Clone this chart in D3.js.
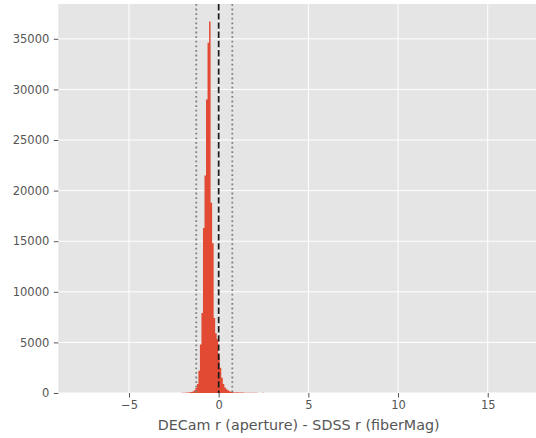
<!DOCTYPE html>
<html>
<head>
<meta charset="utf-8">
<script src="https://cdn.jsdelivr.net/npm/d3@7"></script>
<style>
  html, body { margin: 0; padding: 0; background: #ffffff; }
  svg { display: block; }
  text { font-family: "DejaVu Sans", sans-serif; }
</style>
</head>
<body>
<svg id="chart" width="536" height="438"></svg>
<script>
// ---- data ----
const binStart = -2.15;      // left edge of first bin
const binWidth = 0.085;      // histogram bin width
const counts = [
  0, 20, 30, 30, 40, 50, 70, 100, 160, 280,
  500, 900, 2200, 4800, 7900, 16300, 21500, 29000, 34600, 36700,
  18800, 14800, 7400, 5900, 5300, 3800, 2500, 1500, 900, 550,
  380, 260, 180, 130, 90, 60, 45, 70, 55, 50,
  45, 40, 35, 30, 30, 25, 25, 20, 30, 15,
  25, 10, 8, 0, 15, 10
];
const xTicks = [-5, 0, 5, 10, 15];
const yTicks = [0, 5000, 10000, 15000, 20000, 25000, 30000, 35000];
const xDomain = [-8.94, 17.69];
const yDomain = [0, 38440];
const refLine = 0;               // dashed line
const boundLines = [-1.25, 0.76]; // dotted lines
const xLabel = "DECam r (aperture) - SDSS r (fiberMag)";

// ---- layout ----
const svg = d3.select("#chart");
const plot = { left: 58.3, right: 536, top: 4, bottom: 393 };

const x = d3.scaleLinear().domain(xDomain).range([plot.left, plot.right]);
const y = d3.scaleLinear().domain(yDomain).range([plot.bottom, plot.top]);

// background
svg.append("rect")
  .attr("x", plot.left).attr("y", plot.top)
  .attr("width", plot.right - plot.left).attr("height", plot.bottom - plot.top)
  .attr("fill", "#e5e5e5");

// grid
const grid = svg.append("g");
grid.selectAll("line.gx").data(xTicks).join("line")
  .attr("x1", d => x(d)).attr("x2", d => x(d))
  .attr("y1", plot.top).attr("y2", plot.bottom)
  .attr("stroke", "#ffffff").attr("stroke-width", 1);
grid.selectAll("line.gy").data(yTicks).join("line")
  .attr("x1", plot.left).attr("x2", plot.right)
  .attr("y1", d => y(d)).attr("y2", d => y(d))
  .attr("stroke", "#ffffff").attr("stroke-width", 1);

// histogram as one step area (no seams between bars)
const steps = counts.map((c, i) => ({ x: binStart + i * binWidth, c }));
steps.push({ x: binStart + counts.length * binWidth, c: 0 });
const area = d3.area()
  .x(d => x(d.x))
  .y0(y(0))
  .y1(d => y(d.c))
  .curve(d3.curveStepAfter);
svg.append("path")
  .datum(steps)
  .attr("d", area)
  .attr("fill", "#E24A33");

// vertical reference lines
svg.append("g").selectAll("line").data(boundLines).join("line")
  .attr("x1", d => x(d)).attr("x2", d => x(d))
  .attr("y1", plot.top).attr("y2", plot.bottom)
  .attr("stroke", "#808080").attr("stroke-width", 1.8)
  .attr("stroke-dasharray", "1.8,2.8");
svg.append("line")
  .attr("x1", x(refLine)).attr("x2", x(refLine))
  .attr("y1", plot.top).attr("y2", plot.bottom)
  .attr("stroke", "#1a1a1a").attr("stroke-width", 1.7)
  .attr("stroke-dasharray", "6.4,2.8");

// axes
const xAxis = d3.axisBottom(x).tickValues(xTicks).tickSize(4.5).tickPadding(3)
  .tickFormat(d => d < 0 ? "\u2212" + Math.abs(d) : String(d));
const gx = svg.append("g").attr("transform", `translate(0,${plot.bottom})`).call(xAxis);
gx.select(".domain").remove();
gx.selectAll(".tick line").attr("stroke", "#555555");
gx.selectAll(".tick text").attr("fill", "#555555").attr("font-size", 11.5)
  .attr("font-family", "DejaVu Sans, sans-serif");

const yAxis = d3.axisLeft(y).tickValues(yTicks).tickSize(4.5).tickPadding(4.5)
  .tickFormat(d => String(d));
const gy = svg.append("g").attr("transform", `translate(${plot.left},0)`).call(yAxis);
gy.select(".domain").remove();
gy.selectAll(".tick line").attr("stroke", "#555555");
gy.selectAll(".tick text").attr("fill", "#555555").attr("font-size", 11.5)
  .attr("font-family", "DejaVu Sans, sans-serif");

// axis label
svg.append("text")
  .attr("x", (plot.left + plot.right) / 2 + 1.5)
  .attr("y", 430)
  .attr("text-anchor", "middle")
  .attr("fill", "#555555")
  .attr("font-size", 14.3)
  .text(xLabel);
</script>
</body>
</html>
